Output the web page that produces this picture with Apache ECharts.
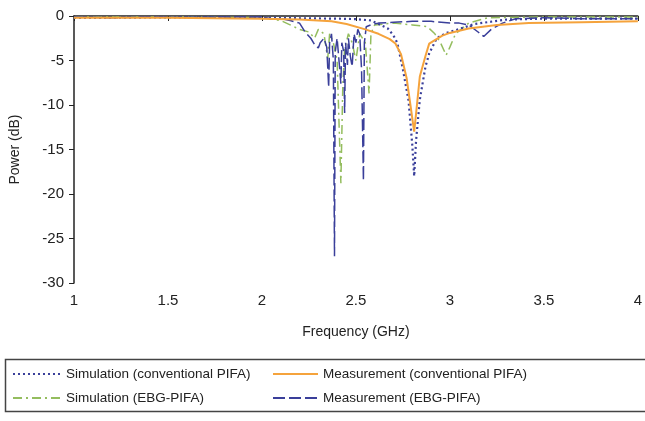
<!DOCTYPE html>
<html>
<head>
<meta charset="utf-8">
<script src="https://cdn.jsdelivr.net/npm/echarts@6/dist/echarts.min.js"></script>
<style type="text/css">
html, body { margin:0; padding:0; background:#fff; }
#main { width:645px; height:421px; }
</style>
</head>
<body>
<div id="main"></div>
<script type="text/javascript">
// 数据：[频率(GHz), 功率(dB)]
var simConventional = [
	[1.0,-0.2],[1.2,-0.2],[1.5,-0.15],[1.8,-0.2],[2.0,-0.2],[2.2,-0.25],[2.4,-0.3],[2.5,-0.35],
	[2.58,-0.5],[2.63,-1.0],[2.67,-1.4],[2.7,-2.2],[2.72,-3],[2.75,-6],[2.78,-9.5],[2.8,-14.5],
	[2.81,-18],[2.82,-14],[2.84,-9.4],[2.87,-5.7],[2.89,-4.2],[2.93,-2.5],[2.98,-1.9],[3.03,-1.6],
	[3.13,-0.9],[3.3,-0.4],[3.5,-0.3],[3.8,-0.3],[4.0,-0.3]
];
var measConventional = [
	[1.0,-0.2],[1.5,-0.2],[2.0,-0.3],[2.2,-0.4],[2.37,-0.6],[2.45,-0.9],[2.55,-1.5],[2.62,-2.0],
	[2.68,-2.6],[2.71,-3.1],[2.74,-4.3],[2.77,-7],[2.79,-10],[2.81,-13],[2.82,-11],[2.84,-6.8],
	[2.87,-4.5],[2.89,-3.1],[2.92,-2.7],[2.96,-2.2],[3.0,-1.9],[3.1,-1.4],[3.25,-1.0],[3.42,-0.8],
	[3.7,-0.7],[4.0,-0.6]
];
var simEBG = [
	[1.0,-0.1],[1.5,-0.1],[2.0,-0.2],[2.1,-0.5],[2.15,-1],[2.2,-1.5],[2.25,-1.8],[2.28,-2.5],
	[2.3,-1.5],[2.33,-2],[2.35,-4.8],[2.36,-2],[2.38,-3],[2.4,-5],[2.42,-18.8],[2.43,-8],
	[2.44,-3.7],[2.46,-2],[2.48,-3],[2.5,-5],[2.52,-2],[2.55,-3],[2.57,-8.7],[2.58,-2],
	[2.6,-1],[2.7,-0.8],[2.8,-1],[2.88,-1.2],[2.92,-2],[2.95,-3],[2.98,-4.4],[3.0,-3.5],
	[3.03,-2],[3.1,-0.8],[3.2,-0.2],[3.5,-0.1],[4.0,-0.1]
];
var measEBG = [
	[1.0,-0.1],[1.2,-0.2],[1.4,-0.1],[1.6,-0.15],[1.8,-0.1],[2.0,-0.1],[2.05,-0.3],[2.1,-0.3],
	[2.15,-0.5],[2.2,-0.8],[2.23,-1.8],[2.26,-2.5],[2.28,-3.2],[2.3,-3.6],[2.31,-3],[2.33,-2.5],
	[2.345,-3.5],[2.355,-8],[2.36,-3],[2.37,-2],[2.38,-5],[2.386,-27],[2.39,-4],[2.40,-2.5],
	[2.41,-5],[2.42,-7.6],[2.425,-3],[2.435,-4],[2.44,-10.9],[2.445,-3],[2.455,-5.5],[2.46,-2.5],
	[2.47,-4.5],[2.48,-5.7],[2.49,-2],[2.5,-3],[2.51,-1.5],[2.52,-2],[2.53,-6],[2.54,-18.5],
	[2.545,-3],[2.555,-1.2],[2.58,-1],[2.62,-0.8],[2.7,-0.7],[2.8,-0.6],[2.9,-0.6],[3.0,-0.8],
	[3.05,-0.8],[3.1,-1],[3.15,-1.8],[3.18,-2.3],[3.22,-1.5],[3.28,-0.8],[3.35,-0.3],[3.5,-0.2],
	[3.7,-0.3],[4.0,-0.3]
];
var seriesNames = [
	'Simulation (conventional PIFA)',
	'Measurement (conventional PIFA)',
	'Simulation (EBG-PIFA)',
	'Measurement (EBG-PIFA)'
];

var myChart = echarts.init(document.getElementById('main'));
var textStyle = { fontFamily: 'Liberation Sans', fontSize: 14, color: '#222' };
var legendText = { fontFamily: 'Liberation Sans', fontSize: 13.5, color: '#222' };

myChart.setOption({
	animation: false,
	textStyle: { fontFamily: 'Liberation Sans' },
	grid: { left: 72, right: 2, top: 16, bottom: 138 },
	legend: [
		{
			orient: 'vertical', left: 7, top: 362,
			itemWidth: 48, itemHeight: 12, itemGap: 10,
			itemStyle: { opacity: 0 },
			data: [seriesNames[0], seriesNames[2]],
			textStyle: legendText
		},
		{
			orient: 'vertical', left: 267, top: 362,
			itemWidth: 45, itemHeight: 12, itemGap: 10,
			itemStyle: { opacity: 0 },
			data: [seriesNames[1], seriesNames[3]],
			textStyle: legendText
		}
	],
	graphic: [{
		type: 'rect',
		shape: { x: 5.5, y: 359.5, width: 645, height: 52 },
		style: { fill: 'none', stroke: '#444', lineWidth: 1.5 }
	}],
	xAxis: {
		type: 'value', min: 1, max: 4, interval: 0.5,
		name: 'Frequency (GHz)', nameLocation: 'middle', nameGap: 42,
		nameTextStyle: textStyle,
		axisLine: { lineStyle: { color: '#222', width: 1.5 } },
		axisTick: { length: 5, lineStyle: { color: '#222' } },
		axisLabel: { fontSize: 15, color: '#222', margin: 10 },
		splitLine: { show: false }
	},
	yAxis: {
		type: 'value', min: -30, max: 0, interval: 5,
		name: 'Power (dB)', nameLocation: 'middle', nameGap: 52,
		nameTextStyle: textStyle,
		axisLine: { show: true, lineStyle: { color: '#222', width: 1.5 } },
		axisTick: { show: true, length: 5, lineStyle: { color: '#222' } },
		axisLabel: { fontSize: 15, color: '#222', margin: 10 },
		splitLine: { show: false }
	},
	series: [
		{
			name: seriesNames[0], type: 'line', data: simConventional, symbol: 'none', z: 3,
			itemStyle: { color: '#3a3f9a' },
			lineStyle: { color: '#3a3f9a', width: 2.2, type: [2, 3] }
		},
		{
			name: seriesNames[1], type: 'line', data: measConventional, symbol: 'none', z: 4,
			itemStyle: { color: '#f5a33c' },
			lineStyle: { color: '#f5a33c', width: 2, type: 'solid' }
		},
		{
			name: seriesNames[2], type: 'line', data: simEBG, symbol: 'none', z: 2,
			itemStyle: { color: '#94bd5e' },
			lineStyle: { color: '#94bd5e', width: 1.5, type: [9, 4, 2, 4] }
		},
		{
			name: seriesNames[3], type: 'line', data: measEBG, symbol: 'none', z: 2,
			itemStyle: { color: '#3a3f9a' },
			lineStyle: { color: '#3a3f9a', width: 1.5, type: [12, 4] }
		}
	]
});
</script>
</body>
</html>
